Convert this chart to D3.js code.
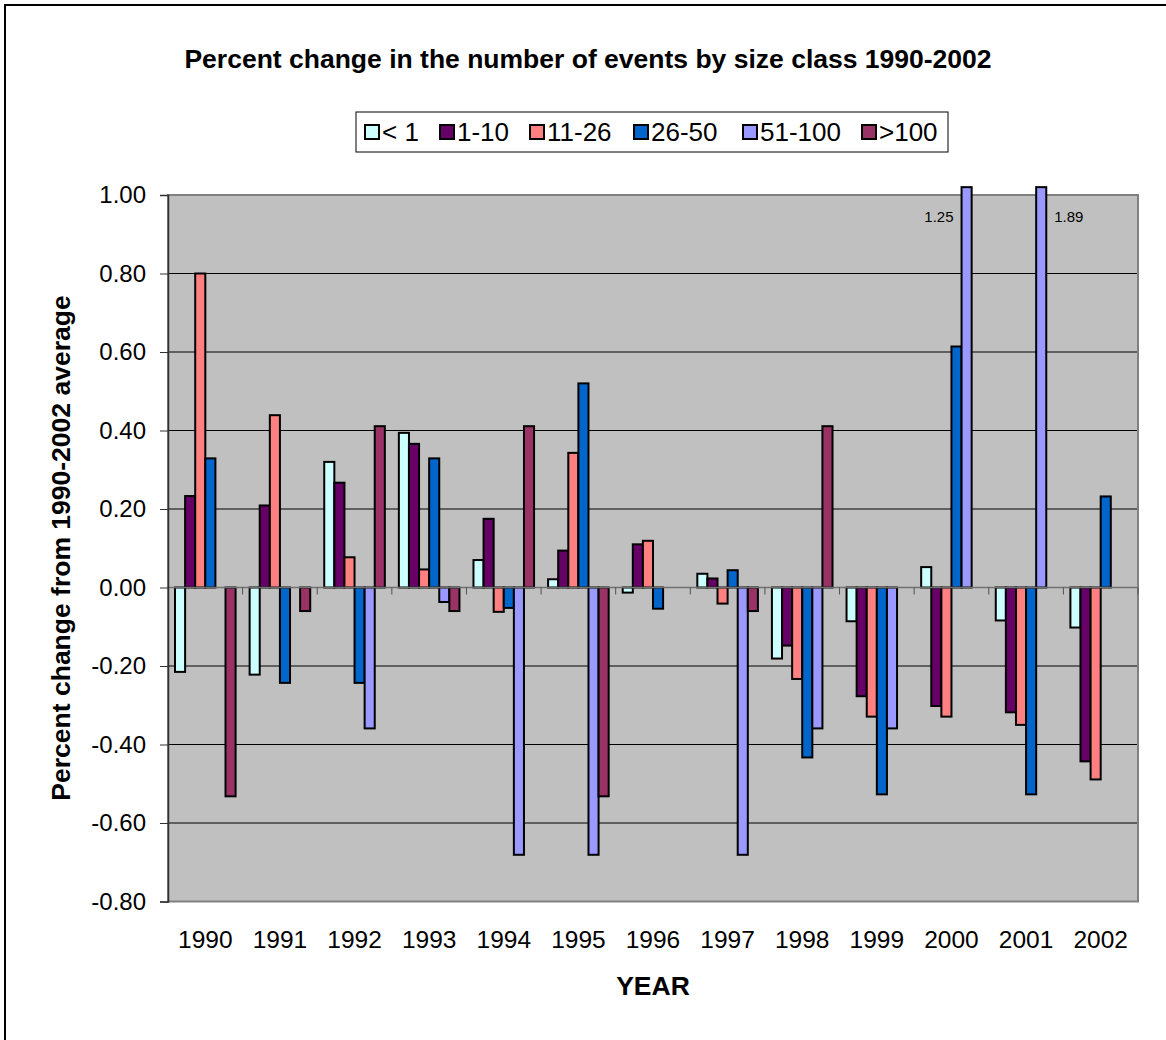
<!DOCTYPE html>
<html>
<head>
<meta charset="utf-8">
<script src="https://cdn.jsdelivr.net/npm/d3@7"></script>
<style>
  html, body { margin: 0; padding: 0; background: #fff; }
  text { font-family: "Liberation Sans", Arial, sans-serif; }
</style>
</head>
<body>
<svg id="chart" width="1166" height="1040"></svg>
<script>
const years = ["1990","1991","1992","1993","1994","1995","1996","1997","1998","1999","2000","2001","2002"];
const seriesNames = ["< 1","1-10","11-26","26-50","51-100",">100"];
const seriesColors = ["#CCFFFF","#660066","#FF8080","#0066CC","#9999FF","#993366"];
const lt1      = [-0.215,-0.222, 0.320, 0.394, 0.070, 0.021,-0.013, 0.035,-0.181,-0.086, 0.052,-0.084,-0.102];
const s1to10   = [ 0.233, 0.209, 0.267, 0.366, 0.175, 0.094, 0.110, 0.023,-0.148,-0.277,-0.302,-0.318,-0.443];
const s11to26  = [ 0.800, 0.439, 0.077, 0.046,-0.062, 0.343, 0.119,-0.041,-0.233,-0.329,-0.329,-0.350,-0.489];
const s26to50  = [ 0.329,-0.243,-0.243, 0.329,-0.052, 0.520,-0.054, 0.044,-0.433,-0.527, 0.614,-0.527, 0.232];
const s51to100 = [ 0.000, 0.000,-0.359,-0.037,-0.681,-0.681, 0.000,-0.681,-0.359,-0.359, 1.250, 1.890, 0.000];
const gt100    = [-0.532,-0.060, 0.411,-0.060, 0.411,-0.532, 0.000,-0.060, 0.411, 0.000, 0.000, 0.000, 0.000];
const seriesValues = [lt1, s1to10, s11to26, s26to50, s51to100, gt100];
const yTicks = [1.0,0.8,0.6,0.4,0.2,0.0,-0.2,-0.4,-0.6,-0.8];
const titleText = "Percent change in the number of events by size class 1990-2002";
const xTitle = "YEAR";
const yTitle = "Percent change from 1990-2002 average";

const fmt = d3.formatLocale({decimal:".", thousands:",", grouping:[3], currency:["$",""], minus:"-"}).format(".2f");

const svg = d3.select("#chart");
const L = 168, R = 1138, T = 195, B = 901.5;

// outer chart border
svg.append("rect").attr("x",5).attr("y",5).attr("width",1170).attr("height",1050)
  .attr("fill","#fff").attr("stroke","#000").attr("stroke-width",2);

const y = d3.scaleLinear().domain([-0.8, 1.0]).range([B, T]);
const x0 = d3.scaleBand().domain(years).range([L, R]).paddingInner(0.188).paddingOuter(0.094);
const x1 = d3.scaleBand().domain(seriesNames).range([0, x0.bandwidth()]).padding(0);

// plot area
svg.append("rect").attr("x",L).attr("y",T).attr("width",R-L).attr("height",B-T)
  .attr("fill","#C0C0C0");

// gridlines
svg.append("g").selectAll("line").data(yTicks.filter(v => v !== 0 && v !== -0.8)).join("line")
  .attr("x1",L).attr("x2",R).attr("y1",d=>y(d)).attr("y2",d=>y(d))
  .attr("stroke","#000").attr("stroke-width",1);

// plot border
svg.append("rect").attr("x",L).attr("y",T).attr("width",R-L).attr("height",B-T)
  .attr("fill","none").attr("stroke","#808080").attr("stroke-width",2);

// bars
const clip = 1.02;
const data = [];
years.forEach((yr,i) => seriesNames.forEach((s,j) => data.push({yr, s, j, v: seriesValues[j][i]})));
svg.append("g").selectAll("rect").data(data.filter(d => d.v !== 0)).join("rect")
  .attr("x", d => x0(d.yr) + x1(d.s))
  .attr("width", x1.bandwidth())
  .attr("y", d => y(Math.max(0, Math.min(clip, d.v))))
  .attr("height", d => Math.abs(y(Math.min(clip, d.v)) - y(0)))
  .attr("fill", d => seriesColors[d.j])
  .attr("stroke","#000").attr("stroke-width",2);

// zero axis line
svg.append("line").attr("x1",L).attr("x2",R).attr("y1",y(0)).attr("y2",y(0))
  .attr("stroke","#707070").attr("stroke-width",1.5);

// x ticks at category boundaries
const step = x0.step();
const bounds = d3.range(years.length + 1).map(i => L + i * step);
svg.append("g").selectAll("line").data(bounds.slice(1)).join("line")
  .attr("x1",d=>d).attr("x2",d=>d).attr("y1",y(0)).attr("y2",y(0)+7)
  .attr("stroke","#505050").attr("stroke-width",1);

// y axis
const yAxis = d3.axisLeft(y).tickValues(yTicks).tickSize(8).tickFormat(fmt);
const gy = svg.append("g").attr("transform",`translate(${L},0)`).call(yAxis);
gy.select(".domain").attr("stroke","#303030").attr("stroke-width",1.5);
gy.selectAll(".tick line").attr("stroke","#303030");
gy.selectAll(".tick text").attr("font-size",24).attr("fill","#000").attr("x",-22)
  .attr("font-family","Liberation Sans, Arial, sans-serif");

// x labels
svg.append("g").selectAll("text").data(years).join("text")
  .attr("x", d => x0(d) + x0.bandwidth()/2)
  .attr("y", 948)
  .attr("text-anchor","middle").attr("font-size",24.5).text(d => d);

// value labels for clipped bars
const labelData = [
  {yr:"2000", v:s51to100[10], side:"left"},
  {yr:"2001", v:s51to100[11], side:"right"}
];
svg.append("g").selectAll("text").data(labelData).join("text")
  .attr("x", d => d.side === "left" ? x0(d.yr) + x1("51-100") - 8 : x0(d.yr) + x1("51-100") + x1.bandwidth() + 8)
  .attr("y", 222)
  .attr("text-anchor", d => d.side === "left" ? "end" : "start")
  .attr("font-size",15).text(d => fmt(d.v));

// titles
svg.append("text").attr("x",588).attr("y",68).attr("text-anchor","middle")
  .attr("font-size",26.5).attr("font-weight","bold").text(titleText);
svg.append("text").attr("x",653).attr("y",995).attr("text-anchor","middle")
  .attr("font-size",26.5).attr("font-weight","bold").text(xTitle);
svg.append("text").attr("transform",`translate(70,548) rotate(-90)`).attr("text-anchor","middle")
  .attr("font-size",26.5).attr("font-weight","bold").text(yTitle);

// legend
const lg = svg.append("g");
lg.append("rect").attr("x",356).attr("y",112).attr("width",592).attr("height",40)
  .attr("fill","#fff").attr("stroke","#000").attr("stroke-width",1);
const legendX = [365, 440, 530, 634, 743, 862];
seriesNames.forEach((s,j) => {
  lg.append("rect").attr("x",legendX[j]).attr("y",125).attr("width",14).attr("height",14)
    .attr("fill",seriesColors[j]).attr("stroke","#000").attr("stroke-width",2);
  lg.append("text").attr("x",legendX[j]+17).attr("y",141).attr("font-size",26).text(s);
});
</script>
</body>
</html>
